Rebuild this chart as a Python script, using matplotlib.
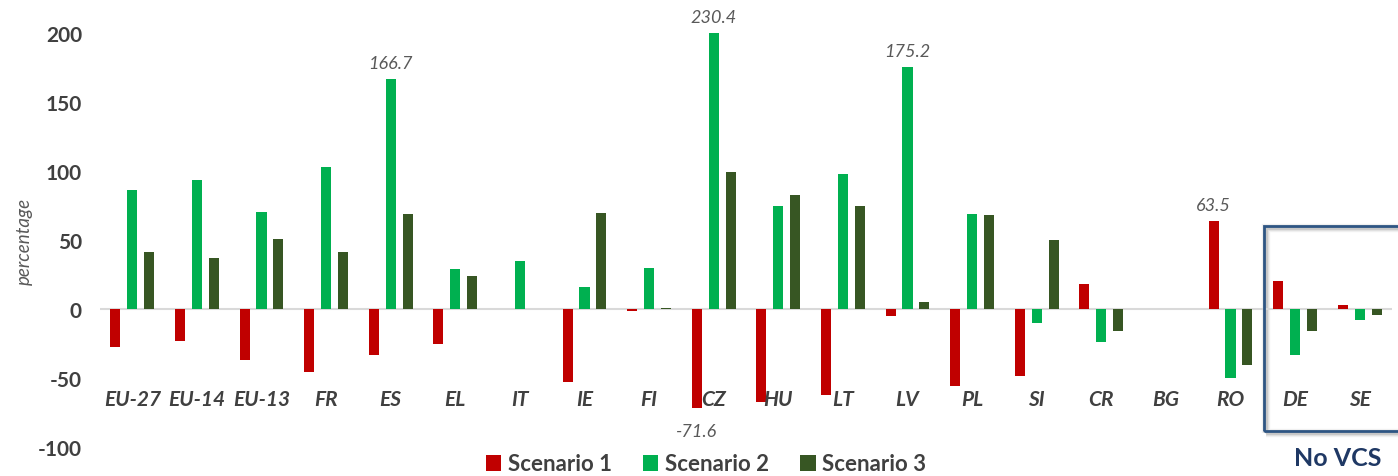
import matplotlib
matplotlib.use("Agg")
import matplotlib.pyplot as plt
from matplotlib.patches import Rectangle, Patch
import numpy as np

categories = ["EU-27", "EU-14", "EU-13", "FR", "ES", "EL", "IT", "IE", "FI", "CZ",
              "HU", "LT", "LV", "PL", "SI", "CR", "BG", "RO", "DE", "SE"]
scenario1 = [-27.3, -23.0, -37.2, -45.9, -33.3, -25.6, 0.0, -52.6, -1.5, -71.6,
             -67.5, -62.0, -5.0, -55.7, -48.5, 18.3, 0.0, 63.5, 20.3, 2.6]
scenario2 = [86.2, 93.3, 70.3, 102.9, 166.7, 29.0, 34.8, 15.8, 30.0, 230.4,
             74.3, 97.8, 175.2, 69.2, -9.9, -24.0, 0.0, -50.1, -33.5, -8.0]
scenario3 = [41.0, 36.7, 50.7, 41.0, 68.8, 23.9, 0.0, 69.7, 1.0, 99.3,
             82.7, 75.0, 5.0, 67.8, 49.9, -15.6, 0.0, -40.4, -16.1, -4.0]
series_names = ["Scenario 1", "Scenario 2", "Scenario 3"]
yticks = [-100, -50, 0, 50, 100, 150, 200]

# (category index, series index, text) for labelled values
annotations = [(4, 1, "166.7"), (9, 1, "230.4"), (12, 1, "175.2"), (17, 0, "63.5"), (9, 0, "-71.6")]

colors = ["#C00000", "#00B050", "#375623"]
FONT = "Lato"
GRAY = "#404040"

W, H = 1398, 477
fig = plt.figure(figsize=(W / 100, H / 100), dpi=100)
ax = fig.add_axes([100 / W, (H - 448) / H, 1292 / W, (448 - 34) / H])
ax.patch.set_visible(False)
ax.set_zorder(2)

x = np.arange(len(categories))
width = 0.155
offset = 0.263
series = [scenario1, scenario2, scenario3]
for i, (vals, c) in enumerate(zip(series, colors)):
    ax.bar(x + (i - 1) * offset, vals, width=width, color=c, zorder=3)

ax.set_xlim(-0.5, len(categories) - 0.5)
ax.set_ylim(-100, 200)
ax.axhline(0, color="#D9D9D9", lw=1.5, zorder=2)
for s in ax.spines.values():
    s.set_visible(False)
ax.set_xticks([])
ax.set_yticks(yticks)
ax.set_yticklabels([str(t) for t in yticks], fontsize=15, fontweight="bold",
                   color=GRAY, family=FONT)
ax.tick_params(axis="y", length=0, pad=13)
ax.set_ylabel("percentage", fontsize=13.5, style="italic", color="#595959",
              family=FONT, labelpad=4)

for xi, cat in zip(x, categories):
    ax.text(xi, -65, cat, ha="center", va="center", fontsize=15, style="italic",
            fontweight="bold", color=GRAY, family=FONT, zorder=4)

for ci, si, txt in annotations:
    v = series[si][ci]
    xpos = ci + (si - 1) * offset
    if v >= 0:
        ypos = min(v, 200) + 6
        va = "bottom"
    else:
        ypos = v - 11
        va = "top"
    ax.text(xpos, ypos, txt, ha="center", va=va, fontsize=13, style="italic",
            color="#595959", family=FONT, clip_on=False)

# No VCS box with soft shadow
bx0, by0, bx1, by1 = 1264, 227, 1402, 432
for k, a in [(6, 0.06), (4, 0.08), (2, 0.1)]:
    sh = Rectangle((bx0 + 2, (H - by1) - 2), bx1 - bx0, by1 - by0, transform=None,
                   facecolor="none", edgecolor="black", lw=k, alpha=a, zorder=1)
    fig.patches.append(sh)
rect = Rectangle((bx0, H - by1), bx1 - bx0, by1 - by0, transform=None,
                 facecolor="none", edgecolor="#2E5583", lw=2, zorder=5)
fig.patches.append(rect)
fig.text(1338 / W, (H - 459) / H, "No VCS", ha="center", va="center",
         fontsize=18, fontweight="bold", color="#1F3864", family=FONT)

handles = [Patch(facecolor=c, edgecolor="none") for c in colors]
leg = fig.legend(handles, series_names, loc="center", bbox_to_anchor=(706 / W, (H - 465) / H),
                 ncol=3, frameon=False, handlelength=0.7, handleheight=0.7,
                 handletextpad=0.3, columnspacing=1.4,
                 prop={"family": FONT, "weight": "bold", "size": 16})
for t in leg.get_texts():
    t.set_color(GRAY)

fig.savefig("out.png", dpi=100)
